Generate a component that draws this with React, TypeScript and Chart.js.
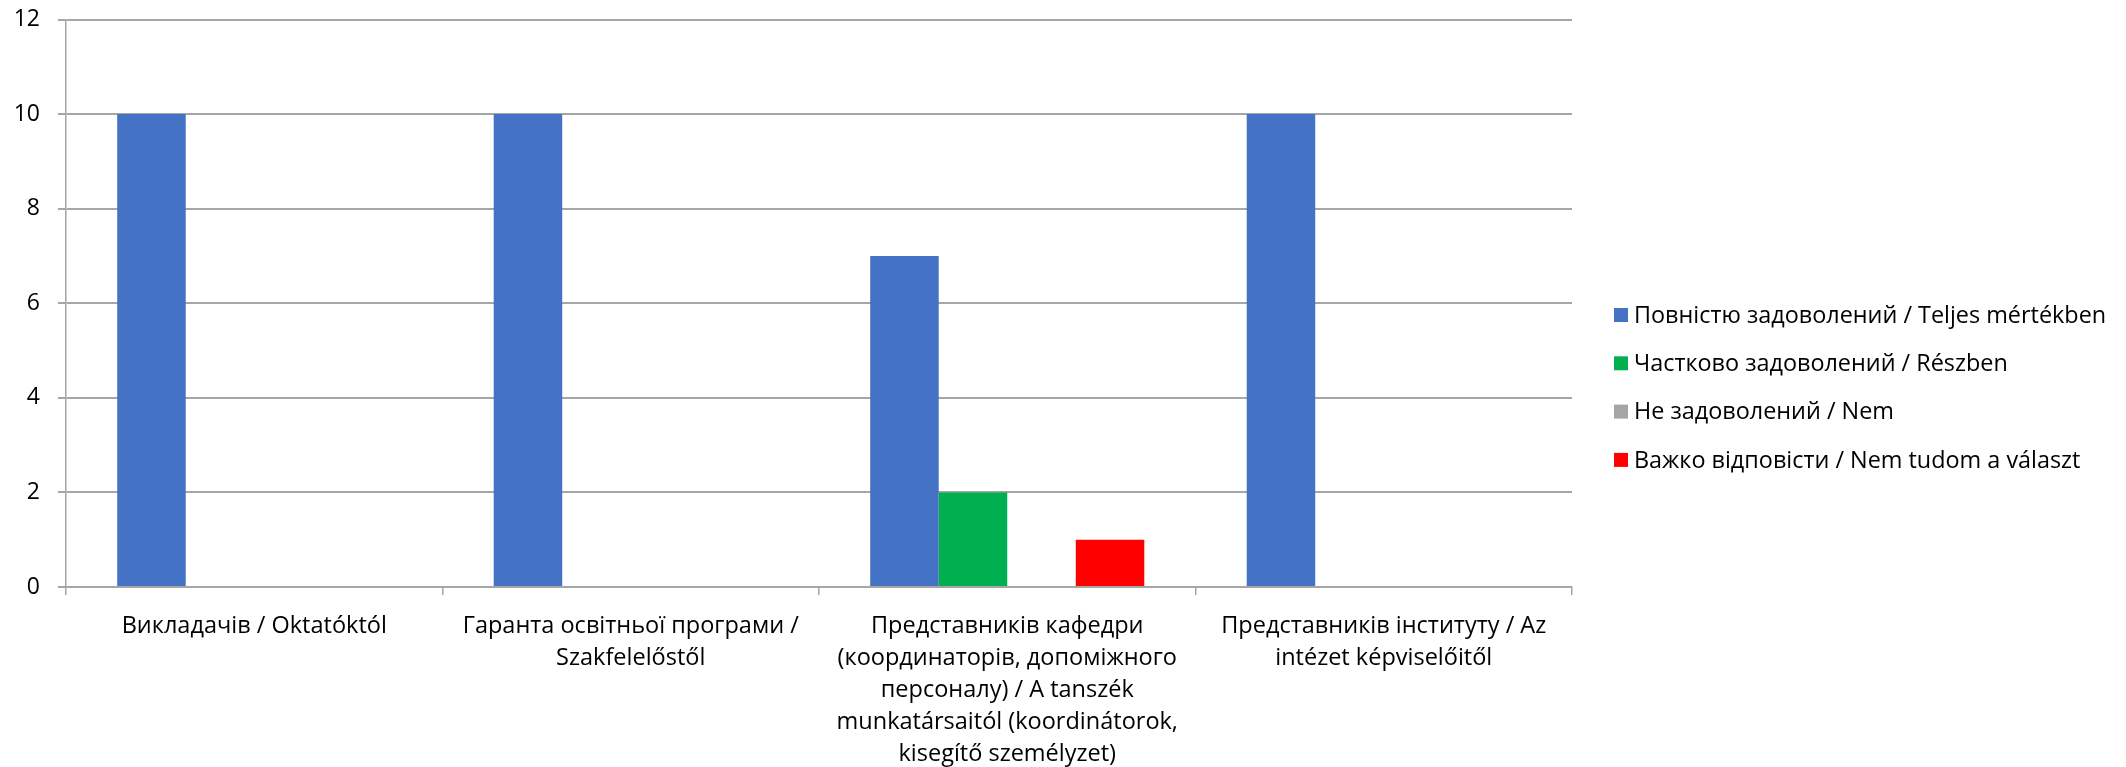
import React, { useEffect, useRef } from 'react';
import { Chart, registerables } from 'chart.js';

Chart.register(...registerables);

const categories: (string | string[])[] = [
  'Викладачів / Oktatóktól',
  ['Гаранта освітньої програми /', 'Szakfelelőstől'],
  [
    'Представників кафедри',
    '(координаторів, допоміжного',
    'персоналу) / A tanszék',
    'munkatársaitól (koordinátorok,',
    'kisegítő személyzet)',
  ],
  ['Представників інституту / Az', 'intézet képviselőitől'],
];

const seriesNames = [
  'Повністю задоволений / Teljes mértékben',
  'Частково задоволений / Részben',
  'Не задоволений / Nem',
  'Важко відповісти / Nem tudom a választ',
];

const fullySatisfied = [10, 10, 7, 10];
const partiallySatisfied = [0, 0, 2, 0];
const notSatisfied = [0, 0, 0, 0];
const hardToSay = [0, 0, 1, 0];

const seriesColors = ['#4472C4', '#00B050', '#A5A5A5', '#FF0000'];

const yMin = 0;
const yMax = 12;
const yStep = 2;

const FONT = '"Open Sans", "Noto Sans", sans-serif';
const GRID = '#A6A6A6';

const sideLegend = {
  id: 'sideLegend',
  afterDraw(chart: any) {
    const ctx = chart.ctx;
    const area = chart.chartArea;
    ctx.save();
    ctx.font = `23.4px ${FONT}`;
    ctx.textBaseline = 'middle';
    ctx.textAlign = 'left';
    const x0 = area.right + 42;
    const yStart = 315;
    const gap = 48.3;
    chart.data.datasets.forEach((ds: any, i: number) => {
      const y = yStart + i * gap;
      ctx.fillStyle = ds.backgroundColor;
      ctx.fillRect(x0, y - 7, 14, 14);
      ctx.fillStyle = '#000000';
      ctx.fillText(ds.label, x0 + 20, y + 1);
    });
    ctx.restore();
  },
};

export default function App() {
  const canvasRef = useRef<HTMLCanvasElement | null>(null);

  useEffect(() => {
    document.body.style.margin = '0';
    const canvas = canvasRef.current;
    if (!canvas) return;
    const seriesData = [fullySatisfied, partiallySatisfied, notSatisfied, hardToSay];
    const chart = new Chart(canvas, {
      type: 'bar',
      data: {
        labels: categories,
        datasets: seriesNames.map((name, i) => ({
          label: name,
          data: seriesData[i],
          backgroundColor: seriesColors[i],
          borderWidth: 0,
          categoryPercentage: 0.728,
          barPercentage: 1,
        })),
      },
      options: {
        responsive: false,
        animation: false,
        devicePixelRatio: 1,
        layout: { padding: { top: 19.5, right: 554, left: 0, bottom: 0 } },
        plugins: {
          legend: { display: false },
          tooltip: { enabled: false },
        },
        scales: {
          x: {
            offset: true,
            grid: {
              offset: true,
              drawOnChartArea: false,
              drawTicks: true,
              tickLength: 8,
              color: GRID,
              lineWidth: 1.5,
            },
            border: { display: true, color: GRID, width: 2 },
            ticks: {
              color: '#000000',
              font: { family: FONT, size: 23.5, lineHeight: 32 / 23.5 },
              padding: 15,
              maxRotation: 0,
              autoSkip: false,
            },
            afterFit: (s: any) => {
              s.height = 767 - 587;
            },
          },
          y: {
            min: yMin,
            max: yMax,
            grid: {
              color: GRID,
              lineWidth: 2,
              drawTicks: true,
              tickLength: 8,
            },
            border: { display: true, color: GRID, width: 1.5 },
            ticks: {
              stepSize: yStep,
              color: '#000000',
              font: { family: FONT, size: 23 },
              padding: 18,
            },
            afterFit: (s: any) => {
              s.width = 66;
              s.paddingTop = 0;
              s.paddingBottom = 0;
            },
          },
        },
      },
      plugins: [sideLegend],
    });
    return () => chart.destroy();
  }, []);

  return (
    <div style={{ width: 2126, height: 767, background: '#ffffff' }}>
      <canvas ref={canvasRef} width={2126} height={767} />
    </div>
  );
}
